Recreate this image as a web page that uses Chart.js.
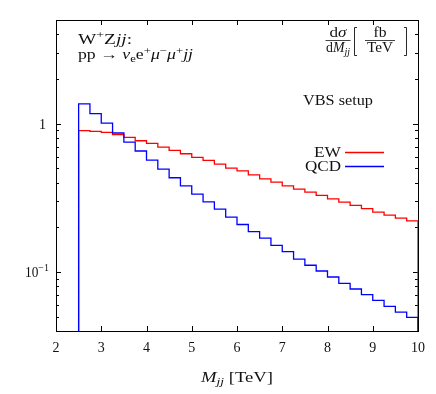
<!DOCTYPE html>
<html>
<head>
<meta charset="utf-8">
<script src="https://cdn.jsdelivr.net/npm/chart.js@4.4.0/dist/chart.umd.min.js"></script>
<style>
html, body { margin: 0; padding: 0; background: #fff; }
</style>
</head>
<body>
<canvas id="myChart" width="436" height="394"></canvas>
<script>
// left edges of the M_jj bins (TeV), bin width 0.25
const binEdges = [2.5, 2.75, 3.0, 3.25, 3.5, 3.75, 4.0, 4.25, 4.5, 4.75,
                  5.0, 5.25, 5.5, 5.75, 6.0, 6.25, 6.5, 6.75, 7.0, 7.25,
                  7.5, 7.75, 8.0, 8.25, 8.5, 8.75, 9.0, 9.25, 9.5, 9.75];
const binWidth = 0.25;
const ewData = [0.897, 0.887, 0.874, 0.843, 0.808, 0.767, 0.736, 0.695, 0.660, 0.627,
                0.593, 0.565, 0.534, 0.501, 0.481, 0.452, 0.425, 0.404, 0.381, 0.362,
                0.346, 0.328, 0.311, 0.296, 0.281, 0.267, 0.253, 0.242, 0.231, 0.221];
const qcdData = [1.36, 1.17, 1.01, 0.865, 0.752, 0.654, 0.568, 0.494, 0.432, 0.381,
                 0.335, 0.297, 0.265, 0.234, 0.209, 0.187, 0.169, 0.151, 0.137, 0.122,
                 0.111, 0.1015, 0.0925, 0.0839, 0.0768, 0.0703, 0.0644, 0.0587, 0.0537, 0.0494];
const xTicks = [2, 3, 4, 5, 6, 7, 8, 9, 10];
const yLabelTicks = [1, 0.1];
const yMin = 0.04;
const yMax = 5;

const FONT = '"Liberation Serif", "DejaVu Serif", serif';

function histPoints(vals) {
    const last = binEdges.length - 1;
    const end = binEdges[last] + binWidth;
    const pts = [{ x: binEdges[0], y: yMin }];
    vals.forEach((v, i) => pts.push({ x: binEdges[i], y: v }));
    pts.push({ x: end, y: vals[last] });
    pts.push({ x: end, y: yMin });
    return pts;
}

// text with mixed italic / sub / superscript pieces: [text, italic, scale, dy]
// tw = optional target width (text gets stretched sideways, the CM font is wider)
function drawRich(ctx, x, y, parts, size, align, tw) {
    const fonts = parts.map(p => (p[1] ? 'italic ' : '') + (size * (p[2] || 1)).toFixed(1) + 'px ' + FONT);
    let w = 0;
    parts.forEach((p, i) => { ctx.font = fonts[i]; w += ctx.measureText(p[0]).width; });
    const k = tw ? tw / w : 1;
    const W = w * k;
    const x0 = align === 'center' ? x - W / 2 : (align === 'right' ? x - W : x);
    ctx.save();
    ctx.translate(x0, y);
    ctx.scale(k, 1);
    ctx.textAlign = 'left';
    ctx.textBaseline = 'alphabetic';
    let cx = 0;
    parts.forEach((p, i) => {
        ctx.font = fonts[i];
        ctx.fillText(p[0], cx, p[3] || 0);
        cx += ctx.measureText(p[0]).width;
    });
    ctx.restore();
    return W;
}

const framePlugin = {
    id: 'frame',
    beforeDatasetsDraw(chart) {
        const ctx = chart.ctx;
        const a = chart.chartArea;
        const xs = chart.scales.x, ys = chart.scales.y;
        ctx.save();
        ctx.strokeStyle = '#000';
        ctx.lineWidth = 1;
        ctx.strokeRect(Math.round(a.left) + 0.5, Math.round(a.top) + 0.5,
                       Math.round(a.right - a.left), Math.round(a.bottom - a.top));
        ctx.beginPath();
        xTicks.forEach(t => {
            const px = Math.round(xs.getPixelForValue(t)) + 0.5;
            ctx.moveTo(px, a.bottom); ctx.lineTo(px, a.bottom - 5);
            ctx.moveTo(px, a.top); ctx.lineTo(px, a.top + 5);
        });
        for (let d = 0.01; d < 100; d *= 10) {
            for (let m = 1; m < 10; m++) {
                const v = m * d;
                if (v < yMin || v > yMax) continue;
                const len = m === 1 ? 5 : 3;
                const py = Math.round(ys.getPixelForValue(v)) + 0.5;
                ctx.moveTo(a.left, py); ctx.lineTo(a.left + len, py);
                ctx.moveTo(a.right, py); ctx.lineTo(a.right - len, py);
            }
        }
        ctx.stroke();
        ctx.restore();
    },
    afterDraw(chart) {
        const ctx = chart.ctx;
        const a = chart.chartArea;
        const ys = chart.scales.y;
        ctx.save();
        ctx.fillStyle = '#111';

        // y tick labels
        const y1 = ys.getPixelForValue(yLabelTicks[0]);
        drawRich(ctx, a.left - 10, y1 + 5, [['1']], 14, 'right');
        const y2 = ys.getPixelForValue(yLabelTicks[1]);
        drawRich(ctx, a.left - 7, y2 + 5, [['10'], ['\u22121', 0, 0.75, -6]], 14, 'right', 24);

        // x axis title
        drawRich(ctx, (a.left + a.right) / 2, 382,
                 [['M', 1], ['jj', 1, 0.72, 3], [' [TeV]']], 15, 'center', 72);

        // process labels
        drawRich(ctx, 78, 44, [['W'], ['+', 0, 0.72, -6], ['Z'], ['jj', 1], [':']], 15, 'left', 54);
        drawRich(ctx, 78, 59, [['pp \u2192 '], ['\u03bd', 1], ['e', 0, 0.72, 3], ['e'], ['+', 0, 0.72, -5],
                               ['\u03bc', 1], ['\u2212', 0, 0.72, -5], ['\u03bc', 1], ['+', 0, 0.72, -5], ['jj', 1]],
                 14, 'left', 115);

        // y quantity  dsigma/dMjj [fb/TeV]
        ctx.strokeStyle = '#111';
        ctx.lineWidth = 0.8;
        const fc = 338;
        drawRich(ctx, fc, 37, [['d'], ['\u03c3', 1]], 14, 'center', 17);
        drawRich(ctx, fc, 52, [['d'], ['M', 1], ['jj', 1, 0.72, 3]], 14, 'center', 24);
        ctx.beginPath();
        ctx.moveTo(fc - 12.5, 40.5); ctx.lineTo(fc + 12.5, 40.5);
        const uc = 380;
        ctx.moveTo(uc - 15, 40.5); ctx.lineTo(uc + 15, 40.5);
        ctx.stroke();
        drawRich(ctx, uc, 37, [['fb']], 14, 'center', 13);
        drawRich(ctx, uc, 52, [['TeV']], 14, 'center', 26);
        ctx.lineWidth = 0.9;
        ctx.beginPath();
        ctx.moveTo(357, 27.5); ctx.lineTo(354.5, 27.5); ctx.lineTo(354.5, 55.5); ctx.lineTo(357, 55.5);
        ctx.moveTo(404, 27.5); ctx.lineTo(406.5, 27.5); ctx.lineTo(406.5, 55.5); ctx.lineTo(404, 55.5);
        ctx.stroke();

        drawRich(ctx, 303, 105, [['VBS setup']], 15, 'left', 70);

        // legend
        const ds = chart.data.datasets;
        const legendY = [152, 166];
        const legendW = [27, 36];
        ds.forEach((d, i) => {
            drawRich(ctx, 341, legendY[i] + 5, [[d.label]], 14.5, 'right', legendW[i]);
            ctx.strokeStyle = d.borderColor;
            ctx.lineWidth = 1.3;
            ctx.beginPath();
            ctx.moveTo(345, legendY[i] + 0.5); ctx.lineTo(384, legendY[i] + 0.5);
            ctx.stroke();
        });
        ctx.restore();
    }
};

const ctx = document.getElementById('myChart').getContext('2d');
const myChart = new Chart(ctx, {
    type: 'line',
    data: {
        datasets: [
            {
                label: 'EW',
                data: histPoints(ewData),
                borderColor: '#ff0000',
                borderWidth: 1.3,
                stepped: 'before',
                pointRadius: 0,
                fill: false,
                order: 1
            },
            {
                label: 'QCD',
                data: histPoints(qcdData),
                borderColor: '#0000ff',
                borderWidth: 1.3,
                stepped: 'before',
                pointRadius: 0,
                fill: false,
                order: 0
            }
        ]
    },
    options: {
        responsive: false,
        animation: false,
        devicePixelRatio: 1,
        layout: { padding: { top: 20, right: 18, left: 0, bottom: 0 } },
        plugins: { legend: { display: false }, tooltip: { enabled: false } },
        scales: {
            x: {
                type: 'linear',
                min: 2,
                max: 10,
                ticks: { stepSize: 1, color: '#111', padding: 9, font: { family: FONT, size: 14 } },
                grid: { display: false, drawTicks: false },
                border: { display: false },
                afterFit(scale) { scale.height = 63; }
            },
            y: {
                type: 'logarithmic',
                min: yMin,
                max: yMax,
                ticks: { display: false },
                grid: { display: false, drawTicks: false },
                border: { display: false },
                afterFit(scale) { scale.width = 56; }
            }
        }
    },
    plugins: [framePlugin]
});
</script>
</body>
</html>
